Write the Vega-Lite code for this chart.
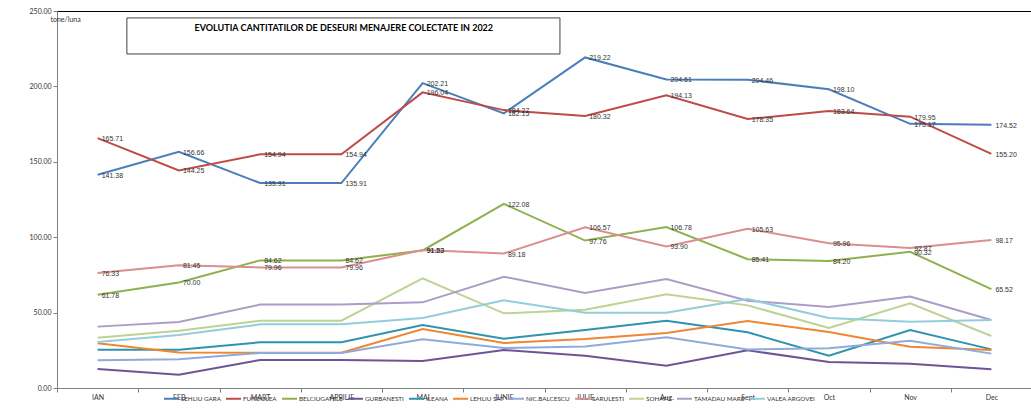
{
  "$schema": "https://vega.github.io/schema/vega-lite/v6.json",
  "width": 975,
  "height": 377,
  "autosize": {"type": "none"},
  "padding": {"left": 57, "top": 11, "right": 0, "bottom": 23},
  "background": "white",
  "config": {
    "view": {"stroke": "#000000", "strokeWidth": 1},
    "font": "Lato"
  },
  "datasets": {
    "serii": [
      {"luna": "IAN", "serie": "LEHLIU GARA", "t": 141.38},
      {"luna": "FEB", "serie": "LEHLIU GARA", "t": 156.66},
      {"luna": "MART", "serie": "LEHLIU GARA", "t": 135.91},
      {"luna": "APRILIE", "serie": "LEHLIU GARA", "t": 135.91},
      {"luna": "MAI", "serie": "LEHLIU GARA", "t": 202.21},
      {"luna": "IUNIE", "serie": "LEHLIU GARA", "t": 182.15},
      {"luna": "IULIE", "serie": "LEHLIU GARA", "t": 219.22},
      {"luna": "Aug.", "serie": "LEHLIU GARA", "t": 204.61},
      {"luna": "Sept", "serie": "LEHLIU GARA", "t": 204.46},
      {"luna": "Oct", "serie": "LEHLIU GARA", "t": 198.10},
      {"luna": "Nov", "serie": "LEHLIU GARA", "t": 175.17},
      {"luna": "Dec", "serie": "LEHLIU GARA", "t": 174.52},
      {"luna": "IAN", "serie": "FUNDULEA", "t": 165.71},
      {"luna": "FEB", "serie": "FUNDULEA", "t": 144.25},
      {"luna": "MART", "serie": "FUNDULEA", "t": 154.94},
      {"luna": "APRILIE", "serie": "FUNDULEA", "t": 154.94},
      {"luna": "MAI", "serie": "FUNDULEA", "t": 196.04},
      {"luna": "IUNIE", "serie": "FUNDULEA", "t": 184.27},
      {"luna": "IULIE", "serie": "FUNDULEA", "t": 180.32},
      {"luna": "Aug.", "serie": "FUNDULEA", "t": 194.13},
      {"luna": "Sept", "serie": "FUNDULEA", "t": 178.35},
      {"luna": "Oct", "serie": "FUNDULEA", "t": 183.64},
      {"luna": "Nov", "serie": "FUNDULEA", "t": 179.95},
      {"luna": "Dec", "serie": "FUNDULEA", "t": 155.20},
      {"luna": "IAN", "serie": "BELCIUGATELE", "t": 61.78},
      {"luna": "FEB", "serie": "BELCIUGATELE", "t": 70.00},
      {"luna": "MART", "serie": "BELCIUGATELE", "t": 84.62},
      {"luna": "APRILIE", "serie": "BELCIUGATELE", "t": 84.62},
      {"luna": "MAI", "serie": "BELCIUGATELE", "t": 91.22},
      {"luna": "IUNIE", "serie": "BELCIUGATELE", "t": 122.08},
      {"luna": "IULIE", "serie": "BELCIUGATELE", "t": 97.76},
      {"luna": "Aug.", "serie": "BELCIUGATELE", "t": 106.78},
      {"luna": "Sept", "serie": "BELCIUGATELE", "t": 85.41},
      {"luna": "Oct", "serie": "BELCIUGATELE", "t": 84.20},
      {"luna": "Nov", "serie": "BELCIUGATELE", "t": 90.32},
      {"luna": "Dec", "serie": "BELCIUGATELE", "t": 65.52},
      {"luna": "IAN", "serie": "GURBANESTI", "t": 12.6},
      {"luna": "FEB", "serie": "GURBANESTI", "t": 8.8},
      {"luna": "MART", "serie": "GURBANESTI", "t": 18.6},
      {"luna": "APRILIE", "serie": "GURBANESTI", "t": 18.6},
      {"luna": "MAI", "serie": "GURBANESTI", "t": 17.9},
      {"luna": "IUNIE", "serie": "GURBANESTI", "t": 25.2},
      {"luna": "IULIE", "serie": "GURBANESTI", "t": 21.4},
      {"luna": "Aug.", "serie": "GURBANESTI", "t": 14.8},
      {"luna": "Sept", "serie": "GURBANESTI", "t": 25.0},
      {"luna": "Oct", "serie": "GURBANESTI", "t": 17.2},
      {"luna": "Nov", "serie": "GURBANESTI", "t": 16.1},
      {"luna": "Dec", "serie": "GURBANESTI", "t": 12.4},
      {"luna": "IAN", "serie": "ILEANA", "t": 25.4},
      {"luna": "FEB", "serie": "ILEANA", "t": 25.4},
      {"luna": "MART", "serie": "ILEANA", "t": 30.3},
      {"luna": "APRILIE", "serie": "ILEANA", "t": 30.3},
      {"luna": "MAI", "serie": "ILEANA", "t": 41.8},
      {"luna": "IUNIE", "serie": "ILEANA", "t": 32.7},
      {"luna": "IULIE", "serie": "ILEANA", "t": 38.5},
      {"luna": "Aug.", "serie": "ILEANA", "t": 44.6},
      {"luna": "Sept", "serie": "ILEANA", "t": 36.9},
      {"luna": "Oct", "serie": "ILEANA", "t": 21.4},
      {"luna": "Nov", "serie": "ILEANA", "t": 38.5},
      {"luna": "Dec", "serie": "ILEANA", "t": 25.6},
      {"luna": "IAN", "serie": "LEHLIU SAT", "t": 29.6},
      {"luna": "FEB", "serie": "LEHLIU SAT", "t": 23.6},
      {"luna": "MART", "serie": "LEHLIU SAT", "t": 23.4},
      {"luna": "APRILIE", "serie": "LEHLIU SAT", "t": 23.4},
      {"luna": "MAI", "serie": "LEHLIU SAT", "t": 39.1},
      {"luna": "IUNIE", "serie": "LEHLIU SAT", "t": 29.8},
      {"luna": "IULIE", "serie": "LEHLIU SAT", "t": 32.5},
      {"luna": "Aug.", "serie": "LEHLIU SAT", "t": 36.5},
      {"luna": "Sept", "serie": "LEHLIU SAT", "t": 44.4},
      {"luna": "Oct", "serie": "LEHLIU SAT", "t": 37.1},
      {"luna": "Nov", "serie": "LEHLIU SAT", "t": 27.4},
      {"luna": "Dec", "serie": "LEHLIU SAT", "t": 25.2},
      {"luna": "IAN", "serie": "NIC.BALCESCU", "t": 18.4},
      {"luna": "FEB", "serie": "NIC.BALCESCU", "t": 19.0},
      {"luna": "MART", "serie": "NIC.BALCESCU", "t": 23.2},
      {"luna": "APRILIE", "serie": "NIC.BALCESCU", "t": 23.2},
      {"luna": "MAI", "serie": "NIC.BALCESCU", "t": 32.3},
      {"luna": "IUNIE", "serie": "NIC.BALCESCU", "t": 26.5},
      {"luna": "IULIE", "serie": "NIC.BALCESCU", "t": 27.6},
      {"luna": "Aug.", "serie": "NIC.BALCESCU", "t": 33.6},
      {"luna": "Sept", "serie": "NIC.BALCESCU", "t": 25.6},
      {"luna": "Oct", "serie": "NIC.BALCESCU", "t": 26.3},
      {"luna": "Nov", "serie": "NIC.BALCESCU", "t": 31.4},
      {"luna": "Dec", "serie": "NIC.BALCESCU", "t": 22.8},
      {"luna": "IAN", "serie": "SARULESTI", "t": 76.33},
      {"luna": "FEB", "serie": "SARULESTI", "t": 81.45},
      {"luna": "MART", "serie": "SARULESTI", "t": 79.96},
      {"luna": "APRILIE", "serie": "SARULESTI", "t": 79.96},
      {"luna": "MAI", "serie": "SARULESTI", "t": 91.53},
      {"luna": "IUNIE", "serie": "SARULESTI", "t": 89.18},
      {"luna": "IULIE", "serie": "SARULESTI", "t": 106.57},
      {"luna": "Aug.", "serie": "SARULESTI", "t": 93.90},
      {"luna": "Sept", "serie": "SARULESTI", "t": 105.63},
      {"luna": "Oct", "serie": "SARULESTI", "t": 95.96},
      {"luna": "Nov", "serie": "SARULESTI", "t": 92.87},
      {"luna": "Dec", "serie": "SARULESTI", "t": 98.17},
      {"luna": "IAN", "serie": "SOHATU", "t": 33.4},
      {"luna": "FEB", "serie": "SOHATU", "t": 38.0},
      {"luna": "MART", "serie": "SOHATU", "t": 44.6},
      {"luna": "APRILIE", "serie": "SOHATU", "t": 44.6},
      {"luna": "MAI", "serie": "SOHATU", "t": 72.7},
      {"luna": "IUNIE", "serie": "SOHATU", "t": 49.5},
      {"luna": "IULIE", "serie": "SOHATU", "t": 51.9},
      {"luna": "Aug.", "serie": "SOHATU", "t": 62.1},
      {"luna": "Sept", "serie": "SOHATU", "t": 54.8},
      {"luna": "Oct", "serie": "SOHATU", "t": 39.8},
      {"luna": "Nov", "serie": "SOHATU", "t": 56.2},
      {"luna": "Dec", "serie": "SOHATU", "t": 34.5},
      {"luna": "IAN", "serie": "TAMADAU MARE", "t": 40.7},
      {"luna": "FEB", "serie": "TAMADAU MARE", "t": 43.8},
      {"luna": "MART", "serie": "TAMADAU MARE", "t": 55.3},
      {"luna": "APRILIE", "serie": "TAMADAU MARE", "t": 55.3},
      {"luna": "MAI", "serie": "TAMADAU MARE", "t": 56.8},
      {"luna": "IUNIE", "serie": "TAMADAU MARE", "t": 73.8},
      {"luna": "IULIE", "serie": "TAMADAU MARE", "t": 63.0},
      {"luna": "Aug.", "serie": "TAMADAU MARE", "t": 72.3},
      {"luna": "Sept", "serie": "TAMADAU MARE", "t": 57.9},
      {"luna": "Oct", "serie": "TAMADAU MARE", "t": 53.7},
      {"luna": "Nov", "serie": "TAMADAU MARE", "t": 60.6},
      {"luna": "Dec", "serie": "TAMADAU MARE", "t": 45.1},
      {"luna": "IAN", "serie": "VALEA ARGOVEI", "t": 30.5},
      {"luna": "FEB", "serie": "VALEA ARGOVEI", "t": 35.1},
      {"luna": "MART", "serie": "VALEA ARGOVEI", "t": 42.2},
      {"luna": "APRILIE", "serie": "VALEA ARGOVEI", "t": 42.2},
      {"luna": "MAI", "serie": "VALEA ARGOVEI", "t": 46.4},
      {"luna": "IUNIE", "serie": "VALEA ARGOVEI", "t": 58.1},
      {"luna": "IULIE", "serie": "VALEA ARGOVEI", "t": 49.9},
      {"luna": "Aug.", "serie": "VALEA ARGOVEI", "t": 49.9},
      {"luna": "Sept", "serie": "VALEA ARGOVEI", "t": 59.0},
      {"luna": "Oct", "serie": "VALEA ARGOVEI", "t": 46.4},
      {"luna": "Nov", "serie": "VALEA ARGOVEI", "t": 44.0},
      {"luna": "Dec", "serie": "VALEA ARGOVEI", "t": 45.1}
    ]
  },
  "layer": [
    {
      "data": {"name": "serii"},
      "layer": [
        {
          "mark": {"type": "line", "strokeWidth": 2},
          "encoding": {
            "x": {
              "field": "luna", "type": "ordinal", "bandPosition": 0.5,
              "scale": {"type": "band", "paddingInner": 0, "paddingOuter": 0,
                "domain": ["IAN","FEB","MART","APRILIE","MAI","IUNIE","IULIE","Aug.","Sept","Oct","Nov","Dec"]},
              "axis": {"title": null, "tickBand": "extent", "labelAngle": 0, "labelFont": "Lato", "labelFontSize": 7, "labelColor": "#333333", "labelPadding": 1, "tickSize": 4, "tickColor": "#808080", "domainColor": "#808080"}
            },
            "y": {
              "field": "t", "type": "quantitative",
              "scale": {"domain": [0, 250], "nice": false, "zero": true},
              "axis": {"values": [0, 50, 100, 150, 200, 250], "format": ".2f", "grid": false,
                "title": "tone/luna", "titleAngle": 0, "titleX": -7, "titleY": 8, "titleAlign": "left", "titleBaseline": "middle",
                "titleFont": "Lato", "titleFontSize": 7, "titleFontWeight": "normal", "titleColor": "#333333",
                "labelFont": "Lato", "labelFontSize": 7, "labelColor": "#333333", "labelPadding": 2, "tickSize": 4, "tickColor": "#808080", "domainColor": "#808080"}
            },
            "color": {
              "field": "serie", "type": "nominal",
              "scale": {
                "domain": ["LEHLIU GARA","FUNDULEA","BELCIUGATELE","GURBANESTI","ILEANA","LEHLIU SAT","NIC.BALCESCU","SARULESTI","SOHATU","TAMADAU MARE","VALEA ARGOVEI"],
                "range": ["#4A7EBB","#BE4B48","#8FB04E","#6E5494","#2E93AE","#EF8632","#8FAADC","#DA8F8D","#BCD394","#AE9CC7","#93CDDD"]
              },
              "legend": {
                "orient": "none", "legendX": 106, "legendY": 379, "direction": "horizontal", "columns": 11,
                "title": null, "symbolType": "stroke", "symbolSize": 225, "symbolStrokeWidth": 2,
                "labelFont": "Lato", "labelFontSize": 6.3, "labelColor": "#333333", "labelOffset": 1, "columnPadding": 1
              }
            }
          }
        },
        {
          "transform": [{"filter": {"field": "serie", "oneOf": ["LEHLIU GARA","FUNDULEA","BELCIUGATELE","SARULESTI"]}}],
          "mark": {"type": "text", "align": "left", "baseline": "middle", "dx": 4, "dy": 1, "font": "Liberation Sans", "fontSize": 7, "fill": "#333333"},
          "encoding": {
            "x": {
              "field": "luna", "type": "ordinal", "bandPosition": 0.5,
              "scale": {"type": "band", "paddingInner": 0, "paddingOuter": 0,
                "domain": ["IAN","FEB","MART","APRILIE","MAI","IUNIE","IULIE","Aug.","Sept","Oct","Nov","Dec"]}
            },
            "y": {"field": "t", "type": "quantitative", "scale": {"domain": [0, 250], "nice": false}},
            "text": {"field": "t", "type": "quantitative", "format": ".2f"}
          }
        }
      ]
    },
    {
      "data": {"values": [{}]},
      "layer": [
        {
          "mark": {"type": "rect", "fill": "white", "stroke": "#404040", "strokeWidth": 1},
          "encoding": {
            "x": {"datum": 0.86, "type": "quantitative", "scale": {"domain": [0, 12], "nice": false}, "axis": null},
            "x2": {"datum": 6.19},
            "y": {"datum": 245.4, "type": "quantitative", "scale": {"domain": [0, 250], "nice": false}},
            "y2": {"datum": 221.5}
          }
        },
        {
          "mark": {"type": "text", "align": "center", "baseline": "middle", "font": "Lato", "fontSize": 9, "fontWeight": "bold", "fill": "#000000"},
          "encoding": {
            "x": {"datum": 3.53, "type": "quantitative", "scale": {"domain": [0, 12], "nice": false}, "axis": null},
            "y": {"datum": 238.7, "type": "quantitative", "scale": {"domain": [0, 250], "nice": false}},
            "text": {"value": "EVOLUTIA CANTITATILOR DE  DESEURI MENAJERE COLECTATE IN 2022"}
          }
        }
      ]
    }
  ],
  "resolve": {"scale": {"x": "independent"}}
}
